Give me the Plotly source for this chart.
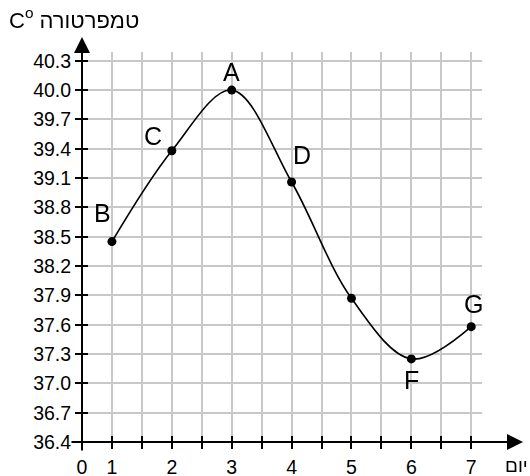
import plotly.graph_objects as go

# Temperature readings per day
days = [1, 2, 3, 4, 5, 6, 7]
temps = [38.45, 39.38, 40.0, 39.06, 37.87, 37.25, 37.58]
point_labels = ["B", "C", "A", "D", "", "F", "G"]

# Axis ticks
x_ticks = [0.5, 1, 1.5, 2, 2.5, 3, 3.5, 4, 4.5, 5, 5.5, 6, 6.5, 7]
x_tick_text = ["0", "1", "", "2", "", "3", "", "4", "", "5", "", "6", "", "7"]
y_ticks = [36.4, 36.7, 37.0, 37.3, 37.6, 37.9, 38.2, 38.5, 38.8, 39.1, 39.4, 39.7, 40.0, 40.3]
y_tick_text = ["36.4", "36.7", "37.0", "37.3", "37.6", "37.9", "38.2", "38.5",
               "38.8", "39.1", "39.4", "39.7", "40.0", "40.3"]

# label offsets (pixels) for the point letters
label_dx = [-9, -19, 0, 10, 0, 0, 2]
label_dy = [29, 15, 18, 27, 0, -21, 23]

x_range = [0.5, 7.18]
y_range = [36.4, 40.39]
font_family = "Liberation Sans, Arial, sans-serif"

fig = go.Figure()

fig.add_trace(go.Scatter(
    x=days, y=temps,
    mode="lines+markers",
    line=dict(color="black", width=1.6, shape="spline", smoothing=1.0),
    marker=dict(color="black", size=9),
    hoverinfo="x+y",
    showlegend=False
))

# invisible trace so the overlay axes (inside ticks) get drawn
fig.add_trace(go.Scatter(
    x=days, y=temps, xaxis="x2", yaxis="y2",
    mode="markers", opacity=0, hoverinfo="skip", showlegend=False
))

annotations = []
for d, t, lab, dx, dy in zip(days, temps, point_labels, label_dx, label_dy):
    if lab:
        annotations.append(dict(
            x=d, y=t, text=lab, showarrow=False,
            xshift=dx, yshift=dy,
            font=dict(size=25, color="black", family=font_family)
        ))

# axis lines with arrow heads
annotations.append(dict(
    xref="paper", yref="paper", x=1.1025, y=0, ax=-453, ay=0,
    text="", showarrow=True, arrowhead=2, arrowsize=1.6, arrowwidth=2,
    arrowcolor="black", standoff=0
))
annotations.append(dict(
    xref="paper", yref="paper", x=0, y=1.0385, ax=0, ay=415,
    text="", showarrow=True, arrowhead=2, arrowsize=1.6, arrowwidth=2,
    arrowcolor="black", standoff=0
))
# x axis title
annotations.append(dict(
    xref="paper", yref="paper", x=1.0525, y=-0.0615,
    xanchor="left", yanchor="middle",
    text="יום", showarrow=False,
    font=dict(size=19, color="black", family=font_family)
))

fig.update_layout(
    width=530, height=476,
    margin=dict(l=82, r=48, t=52, b=34, autoexpand=False),
    paper_bgcolor="white", plot_bgcolor="white",
    title=dict(text="C<sup>o</sup> טמפרטורה", x=9 / 530, xref="container", xanchor="left",
               y=1 - 20 / 476, yanchor="middle",
               font=dict(size=22, color="black", family=font_family)),
    font=dict(family=font_family, color="black"),
    xaxis=dict(range=x_range, tickvals=x_ticks, ticktext=x_tick_text,
               showgrid=True, gridcolor="#c8c8c8", gridwidth=1.5,
               zeroline=False, showline=False,
               ticks="outside", ticklen=6, tickwidth=2, tickcolor="black",
               ticklabelstandoff=2,
               tickfont=dict(size=19.5, color="black")),
    yaxis=dict(range=y_range, tickvals=y_ticks, ticktext=y_tick_text,
               showgrid=True, gridcolor="#c8c8c8", gridwidth=1.5,
               zeroline=False, showline=False,
               ticks="outside", ticklen=6, tickwidth=2, tickcolor="black",
               tickfont=dict(size=19.5, color="black")),
    xaxis2=dict(range=x_range, tickvals=x_ticks, overlaying="x", anchor="y2",
                showgrid=False, zeroline=False, showline=False,
                showticklabels=False, side="bottom",
                ticks="inside", ticklen=6, tickwidth=2, tickcolor="black"),
    yaxis2=dict(range=y_range, tickvals=y_ticks, overlaying="y", anchor="x2",
                showgrid=False, zeroline=False, showline=False,
                showticklabels=False, side="left",
                ticks="inside", ticklen=6, tickwidth=2, tickcolor="black"),
    annotations=annotations
)

# drop the default page margin so the figure sits at the window's corner
fig.write_html("out.html", config={"displayModeBar": False},
               post_script="document.body.style.margin='0px';")
